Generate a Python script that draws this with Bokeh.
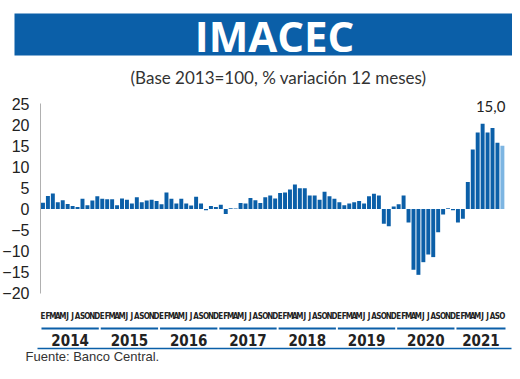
from bokeh.plotting import figure
from bokeh.models import Range1d, LinearAxis, FixedTicker, ColumnDataSource
from bokeh.embed import file_html
from bokeh.resources import INLINE
from bokeh.core.properties import value

# ---------------- data ----------------
years = ["2014", "2015", "2016", "2017", "2018", "2019", "2020", "2021"]
month_letters = ["E", "F", "M", "A", "M", "J", "J", "A", "S", "O", "N", "D"]
imacec = [
    1.5, 3.1, 3.7, 1.6, 2.1, 1.2, 0.7, 0.5, 2.4, 0.9, 2.0, 3.0,          # 2014
    2.4, 2.3, 2.3, 0.9, 2.5, 2.2, 1.3, 2.8, 1.6, 2.0, 2.2, 1.9,          # 2015
    1.1, 3.9, 2.4, 1.3, 2.4, 1.3, 0.8, 2.9, 1.3, -0.3, 0.7, 0.5,         # 2016
    1.0, -1.2, 0.2, 0.1, 1.4, 1.3, 2.6, 2.1, 1.4, 2.8, 3.2, 2.5,         # 2017
    3.8, 3.9, 4.6, 5.8, 4.9, 4.9, 3.2, 3.2, 2.2, 4.1, 3.0, 2.4,          # 2018
    1.6, 0.9, 1.3, 1.6, 1.9, 1.3, 3.0, 3.6, 3.2, -3.5, -4.1, 0.6,        # 2019
    1.1, 3.2, -3.2, -14.4, -15.6, -12.6, -10.8, -11.4, -5.5, -1.3, 0.2, -0.3,  # 2020
    -3.2, -2.3, 6.4, 14.1, 18.1, 20.2, 18.1, 19.2, 15.7, 15.0,           # 2021
]
y_ticks = [-20, -15, -10, -5, 0, 5, 10, 15, 20, 25]

title = "IMACEC"
subtitle = "(Base 2013=100, % variación 12 meses)"
source_text = "Fuente: Banco Central."

# ---------------- styles / layout ----------------
BLUE = "#0b5fa8"
LIGHT = "#7db5e2"
TXT = "#222222"
W, H = 512, 363
PXX = 4.94      # px per month
PXY = 4.22      # px per unit
X0PX = 40       # px where the first bar starts
Y25PX = 103     # px of the value 25


def dx(px):
    """canvas px (from left) -> data x"""
    return -0.5 + (px - X0PX) / PXX


def dy(py):
    """canvas px (from top) -> data y"""
    return 25 - (py - Y25PX) / PXY


n = len(imacec)
idx = list(range(n))
colors = [BLUE] * (n - 1) + [LIGHT]

p = figure(width=W, height=H,
           x_range=Range1d(dx(0), dx(W)),
           y_range=Range1d(dy(H), dy(0)),
           output_backend="svg", toolbar_location=None,
           x_axis_location=None, y_axis_location=None,
           min_border=0, outline_line_color=None)
p.grid.visible = False

# header banner + titles
p.quad(left=[dx(14)], right=[dx(516)], top=[dy(13)], bottom=[dy(55)],
       fill_color=BLUE, line_color=None)
p.text(x=[dx(274)], y=[dy(35)], text=[title], text_color="white",
       text_font=value("Open Sans"), text_font_style="bold",
       text_font_size="42px", text_align="center", text_baseline="middle")
p.text(x=[dx(278)], y=[dy(77)], text=[subtitle], text_color="#333333",
       text_font=value("Lato"), text_font_size="17px",
       text_align="center", text_baseline="middle")

# y axis (drawn at the left edge of the bars)
yax = LinearAxis(ticker=FixedTicker(ticks=y_ticks), bounds=(-20, 25), fixed_location=-0.5)
yax.axis_line_color = "#b0b0b0"
yax.axis_line_width = 1
yax.major_tick_line_color = None
yax.minor_tick_line_color = None
yax.major_label_standoff = 5
yax.major_label_text_font = "Liberation Sans"
yax.major_label_text_font_size = "16px"
yax.major_label_text_color = TXT
p.add_layout(yax, "left")

# bars
src = ColumnDataSource(dict(x=idx, top=imacec, color=colors))
p.vbar(x="x", top="top", bottom=0, width=0.8, fill_color="color", line_color=None, source=src)

# value label for the last observation
last_label = f"{imacec[-1]:.1f}".replace(".", ",")
p.text(x=[n - 1], y=[max(imacec) + 4.2], text=[last_label], text_color=TXT,
       text_font=value("Lato"), text_font_size="15px",
       text_align="right", text_baseline="middle", x_offset=3)

# month letters
p.text(x=idx, y=[dy(316)] * n, text=[month_letters[i % 12] for i in idx],
       text_color=TXT, text_font=value("DejaVu Sans Condensed"), text_font_style="bold",
       text_font_size="8px", text_align="center", text_baseline="middle")

# year groups
ny = len(years)
x0 = [12 * k - 0.3 for k in range(ny)]
x1 = [min(12 * k + 11.3, dx(505)) for k in range(ny)]
xc = [(a + b) / 2 for a, b in zip(x0, x1)]
p.segment(x0=x0, x1=x1, y0=[dy(328)] * ny, y1=[dy(328)] * ny,
          line_color=BLUE, line_width=2)
p.text(x=xc, y=[dy(339)] * ny, text=years, text_color=TXT,
       text_font=value("DejaVu Sans Condensed"), text_font_style="bold",
       text_font_size="15px", text_align="center", text_baseline="middle")

# bottom rule and source
p.segment(x0=[dx(37)], x1=[dx(511)], y0=[dy(348)], y1=[dy(348)], line_color=BLUE, line_width=1.5)
p.text(x=[dx(25)], y=[dy(355.5)], text=[source_text], text_color="#333333",
       text_font=value("Liberation Sans"), text_font_size="13px",
       text_align="left", text_baseline="middle")

open("out.html", "w").write(file_html(p, INLINE))
